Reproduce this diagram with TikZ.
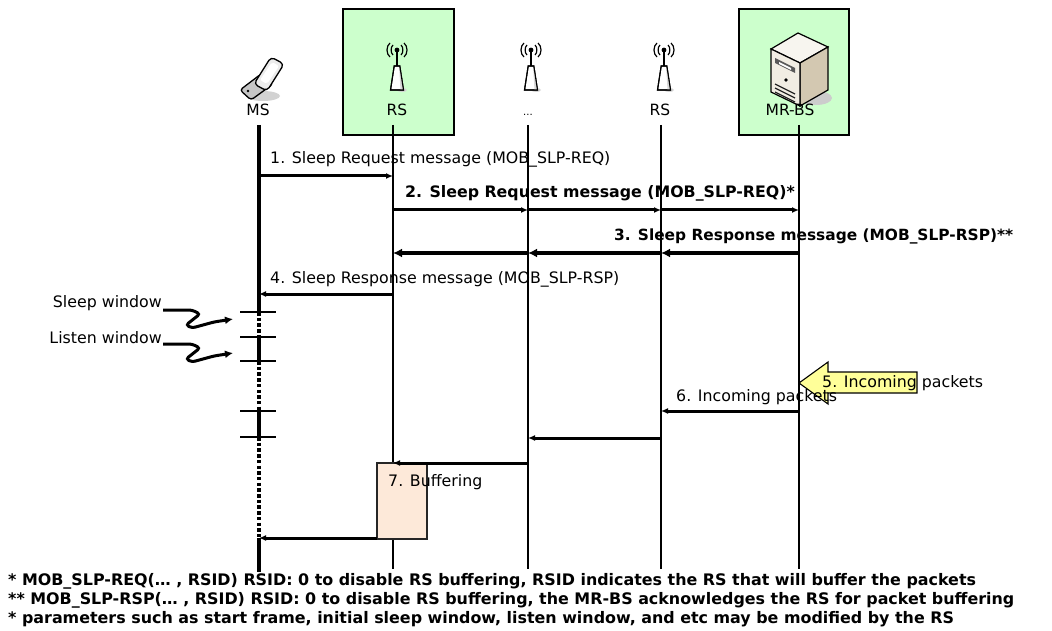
\documentclass[tikz,border=0pt]{standalone}
\usepackage{fontspec}
\setmainfont{DejaVu Sans}
\usetikzlibrary{arrows.meta,calc}
\definecolor{hgreen}{HTML}{CCFFCC}
\definecolor{peach}{HTML}{FDE9D9}
\definecolor{yel}{HTML}{FFFF99}
\definecolor{srvfront}{HTML}{F1EDE3}
\definecolor{srvside}{HTML}{D3C8B1}
\definecolor{srvtop}{HTML}{F7F5EF}
\tikzset{
  antenna/.pic={
    \fill[gray!35] (5,12) ellipse (5 and 2);
    \draw[line width=1.1pt, fill=white] (-6.5,12) -- (-2.8,-12) -- (2.8,-12) -- (6.5,12) -- cycle;
    \fill[gray!30] (2.2,-10) -- (2.8,-12) -- (6.5,12) -- (3.5,12) -- cycle;
    \draw[line width=1.1pt] (-6.5,12) -- (-2.8,-12) -- (2.8,-12) -- (6.5,12) -- cycle;
    \draw[line width=1.5pt] (0,-12) -- (0,-28);
    \fill (0,-28) circle (2.4);
    \draw[line width=1.2pt] (-4,-33) .. controls (-6.5,-31) and (-6.5,-25) .. (-4,-23);
    \draw[line width=1.2pt] (-7,-35) .. controls (-11,-32) and (-11,-24) .. (-7,-21);
    \draw[line width=1.2pt] (4,-33) .. controls (6.5,-31) and (6.5,-25) .. (4,-23);
    \draw[line width=1.2pt] (7,-35) .. controls (11,-32) and (11,-24) .. (7,-21);
  }
}
\begin{document}
\begin{tikzpicture}[x=1pt,y=-1pt,
  lbl/.style={font=\fontsize{15.8}{17}\selectfont, inner sep=0pt, anchor=west},
  blbl/.style={font=\fontsize{15.8}{17}\selectfont\bfseries, inner sep=0pt, anchor=west},
  hdr/.style={font=\fontsize{15.5}{17}\selectfont, inner sep=0pt},
  foot/.style={font=\fontsize{15.9}{17}\selectfont\bfseries, inner sep=0pt, anchor=west},
  lifeline/.style={line width=1.3pt},
  msline/.style={line width=3.4pt},
  msdot/.style={line width=3.4pt, dash pattern=on 3.5pt off 2.2pt},
  msg/.style={line width=3pt, -{Latex[length=7pt,width=6pt]}},
  bigmsg/.style={line width=3.6pt, -{Latex[length=9pt,width=9pt]}},
  wintick/.style={line width=1.3pt},
  hbox/.style={draw=black, line width=1.4pt, fill=hgreen},
  squig/.style={line width=3pt, rounded corners=3pt, -{Latex[length=8pt,width=8pt]}},
]
\useasboundingbox (0,0) rectangle (1052,631);
% header boxes
\draw[hbox] (343,9) rectangle (454,135);
\draw[hbox] (739,9) rectangle (849,135);

% icons: phone
\fill[gray!35] (263,96) ellipse (17 and 5);
\draw[line width=1.3pt, fill=gray!45, rounded corners=3pt] (240,90) -- (261,74) -- (273,84) -- (251,100) -- cycle;
\draw[line width=1.3pt, fill=gray!15, rounded corners=4pt] (254,84) -- (271,57) -- (284,64) -- (267,91) -- cycle;
\fill[white, rounded corners=2pt] (260,80) -- (272,62) -- (279,66) -- (267,84) -- cycle;
\fill (248,91) circle (1.3);

% antennas
\pic at (397,78) {antenna};
\pic at (531,78) {antenna};
\pic at (664,78) {antenna};

% server
\fill[gray!40] (816,98) ellipse (16 and 7);
\draw[line width=1.2pt, fill=srvtop] (771,49) -- (798,33) -- (828,47) -- (800,63) -- cycle;
\draw[line width=1.2pt, fill=srvside] (800,63) -- (828,47) -- (828,90) -- (800,106) -- cycle;
\draw[line width=1.2pt, fill=srvfront] (771,49) -- (800,63) -- (800,106) -- (771,92) -- cycle;
\fill[gray!70!black] (775,58) -- (795,68) -- (795,73) -- (775,63) -- cycle;
\fill[white] (779,62) -- (791,68) -- (791,70) -- (779,64) -- cycle;
\fill (786,80) circle (1.8);
\draw[line width=1.3pt, gray!30!black] (775,84) -- (795,94);
\draw[line width=1.3pt, gray!30!black] (775,88) -- (795,98);
\draw[line width=1.3pt, gray!30!black] (775,92) -- (795,102);

% header labels
\node[hdr] (msH) at (258,110) {MS};
\node[hdr] (rs1H) at (397,110) {RS};
\node[hdr, font=\fontsize{10}{12}\selectfont] (dotsH) at (528,115) {...};
\node[hdr] (rs2H) at (660,110) {RS};
\node[hdr] (bsH) at (790,110) {MR-BS};

% lifeline coordinates
\coordinate (ms) at (259,125);
\coordinate (rs1) at (393,125);
\coordinate (dd) at (528,125);
\coordinate (rs2) at (661,125);
\coordinate (bs) at (799,125);

\draw[lifeline] (rs1) -- (rs1 |- 0,569);
\draw[lifeline] (dd) -- (dd |- 0,569);
\draw[lifeline] (rs2) -- (rs2 |- 0,569);
\draw[lifeline] (bs) -- (bs |- 0,569);

% MS lifeline with sleep/listen windows
\draw[msline] (ms) -- (ms |- 0,312);
\draw[msdot] (ms |- 0,312) -- (ms |- 0,337);
\draw[msline] (ms |- 0,337) -- (ms |- 0,361);
\draw[msdot] (ms |- 0,361) -- (ms |- 0,411);
\draw[msline] (ms |- 0,411) -- (ms |- 0,437);
\draw[msdot] (ms |- 0,437) -- (ms |- 0,538);
\draw[msline] (ms |- 0,538) -- (ms |- 0,572);
\foreach \yy in {312,337,361,411,437} {
  \draw[wintick] (240,\yy) -- (276,\yy);
}

% messages
\draw[msg] (ms |- 0,176) -- (rs1 |- 0,176);
\node[lbl] (l1) at (270,159) {1. Sleep Request message (MOB\_SLP-REQ)};

\draw[msg] (rs1 |- 0,210) -- (dd |- 0,210);
\draw[msg] (dd |- 0,210) -- (rs2 |- 0,210);
\draw[msg] (rs2 |- 0,210) -- (bs |- 0,210);
\node[blbl] (l2) at (405,193) {2. Sleep Request message (MOB\_SLP-REQ)*};

\draw[bigmsg] (bs |- 0,253) -- (rs2 |- 0,253);
\draw[bigmsg] (rs2 |- 0,253) -- (dd |- 0,253);
\draw[bigmsg] (dd |- 0,253) -- (rs1 |- 0,253);
\node[blbl, font=\fontsize{15.4}{17}\selectfont\bfseries] (l3) at (614,236) {3. Sleep Response message (MOB\_SLP-RSP)**};

\draw[msg] (rs1 |- 0,294) -- (ms |- 0,294);
\node[lbl] (l4) at (270,279) {4. Sleep Response message (MOB\_SLP-RSP)};

% window labels
\node[lbl, anchor=east] (sw) at (162,303) {Sleep window};
\node[lbl, anchor=east] (lw) at (162,338) {Listen window};
\draw[squig] (163,310) -- (192,310) -- (200,314) -- (186,325) -- (192,328) -- (214,322) -- (233,319);
\draw[squig] (163,344) -- (192,344) -- (200,348) -- (186,359) -- (192,362) -- (214,356) -- (233,353);

% incoming packets
\draw[line width=1.1pt, fill=yel] (bs |- 0,383) -- (828,362) -- (828,372) -- (917,372) -- (917,393) -- (828,393) -- (828,404) -- cycle;
\node[lbl] (l5) at (822,383) {5. Incoming packets};

\draw[msg] (bs |- 0,411) -- (rs2 |- 0,411);
\node[lbl] (l6) at (676,397) {6. Incoming packets};

\draw[msg] (rs2 |- 0,438) -- (dd |- 0,438);

% buffering
\draw[line width=1.2pt, draw=gray!30!black, fill=peach] (377,463) rectangle (427,539);
\coordinate (bufL) at (377,538);
\draw[msg] (dd |- 0,463) -- (rs1 |- 0,463);
\node[lbl] (l7) at (388,482) {7. Buffering};
\draw[msg] (bufL) -- (ms |- bufL);

% footnotes
\node[foot] (f1) at (8,581) {* MOB\_SLP-REQ(… , RSID) RSID: 0 to disable RS buffering, RSID indicates the RS that will buffer the packets};
\node[foot] (f2) at (8,600) {** MOB\_SLP-RSP(… , RSID) RSID: 0 to disable RS buffering, the MR-BS acknowledges the RS for packet buffering};
\node[foot] (f3) at (8,619) {* parameters such as start frame, initial sleep window, listen window, and etc may be modified by the RS};
\end{tikzpicture}
\end{document}
